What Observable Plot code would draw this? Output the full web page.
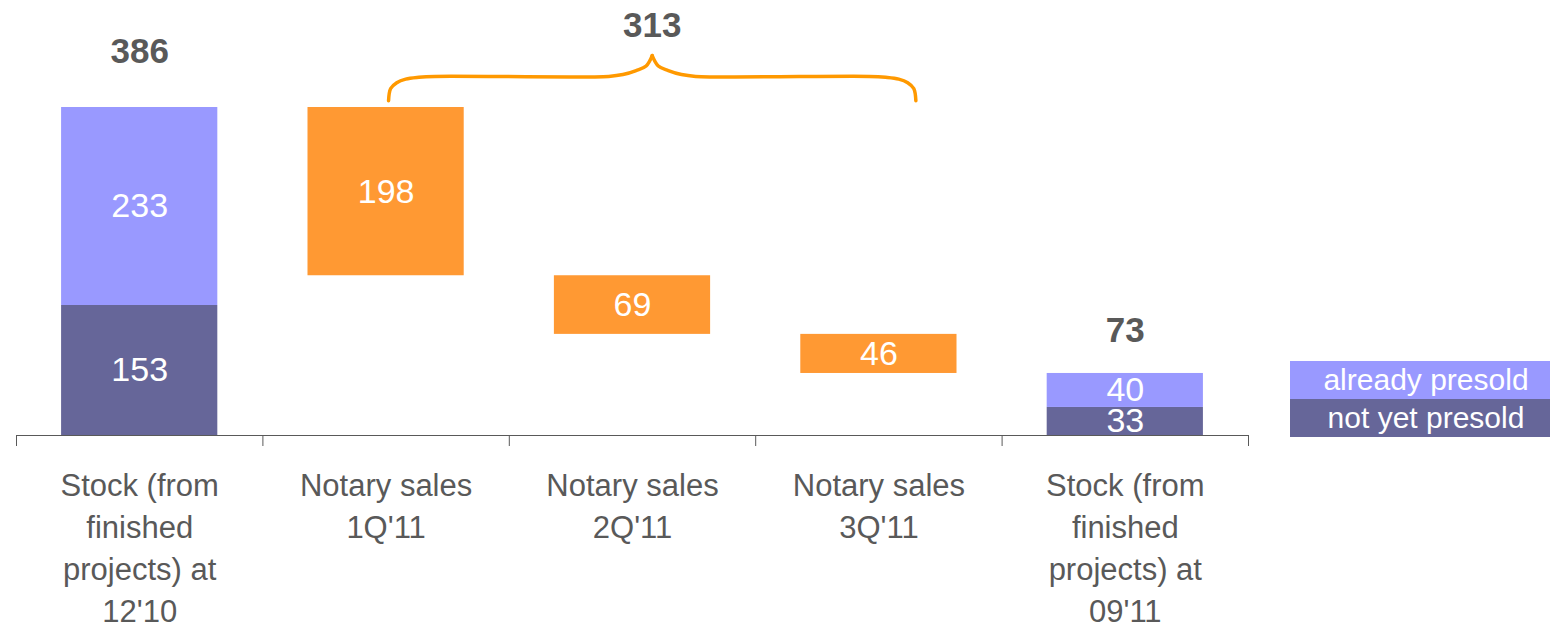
<!DOCTYPE html>
<html>
<head>
<meta charset="utf-8">
<script src="https://cdn.jsdelivr.net/npm/d3@7"></script>
<script src="https://cdn.jsdelivr.net/npm/@observablehq/plot@0.6"></script>
<style>
  html, body { margin: 0; padding: 0; background: #fff; overflow: hidden; }
  #wrap { position: relative; width: 1550px; height: 628px; font-family: "Liberation Sans", Arial, sans-serif; }
  #legend { position: absolute; left: 1290px; top: 361px; width: 272px; }
  #legend div { color: #fff; font-size: 30px; text-align: center; line-height: 38px; height: 38px; }
</style>
</head>
<body>
<div id="wrap"><div id="legend"></div></div>
<script>
// ---- data ----
const categories = [
  "Stock (from\nfinished\nprojects) at\n12'10",
  "Notary sales\n1Q'11",
  "Notary sales\n2Q'11",
  "Notary sales\n3Q'11",
  "Stock (from\nfinished\nprojects) at\n09'11"
];
const notYetPresold = [153, null, null, null, 33];
const alreadyPresold = [233, null, null, null, 40];
const notarySales = [null, 198, 69, 46, null];
const stockTotals = [386, null, null, null, 73];
const salesTotal = 313;
const legendLabels = ["already presold", "not yet presold"];

const colors = { already: "#9999FF", notYet: "#666699", sales: "#FF9933", brace: "#FF9900", text: "#595959", axis: "#595959" };

// ---- build waterfall segments ----
const halfBar = 0.317; // half bar width in category units
const segments = [];
let level = 0;
categories.forEach((c, i) => {
  if (notYetPresold[i] != null) {
    const a = notYetPresold[i], b = alreadyPresold[i];
    segments.push({ i, y1: 0, y2: a, value: a, color: colors.notYet });
    segments.push({ i, y1: a, y2: a + b, value: b, color: colors.already });
    level = a + b;
  } else {
    const s = notarySales[i];
    segments.push({ i, y1: level - s, y2: level, value: s, color: colors.sales });
    level -= s;
  }
});

// ---- brace annotation (spans the three notary sales bars) ----
const braceFrom = 1.51, braceTo = 3.65, braceBase = 394, bracePeak = 447;
const braceShape = [[0,0],[0.008,0.27],[0.031,0.40],[0.065,0.48],[0.115,0.52],[0.176,0.54],[0.835,0.54],[0.889,0.58],[0.939,0.67],[0.977,0.77],[1,1]];
const braceMid = (braceFrom + braceTo) / 2, braceHalf = (braceTo - braceFrom) / 2;
const bracePts = [];
braceShape.forEach(([f, h]) => bracePts.push({ x: braceFrom + f * braceHalf, y: braceBase + h * (bracePeak - braceBase), side: "L" }));
braceShape.forEach(([f, h]) => bracePts.push({ x: braceTo - f * braceHalf, y: braceBase + h * (bracePeak - braceBase), side: "R" }));

const stockIdx = stockTotals.map((v, i) => v != null ? i : -1).filter(i => i >= 0);
const font = "Liberation Sans, Arial, sans-serif";

const chart = Plot.plot({
  width: 1550,
  height: 628,
  marginTop: 0, marginLeft: 0, marginRight: 0, marginBottom: 193,
  style: { fontFamily: font, background: "transparent", color: colors.axis, overflow: "visible" },
  x: { domain: [0, 5], range: [16, 1248], ticks: [0, 1, 2, 3, 4, 5], tickSize: 11, tickFormat: () => "", label: null },
  y: { domain: [0, 386], range: [435, 107], axis: null },
  marks: [
    Plot.rectY(segments, { x1: d => d.i + 0.5 - halfBar, x2: d => d.i + 0.5 + halfBar, y1: "y1", y2: "y2", fill: "color" }),
    Plot.text(segments, { x: d => d.i + 0.5, y: d => (d.y1 + d.y2) / 2, text: d => String(d.value), fill: "#fff", fontSize: 34 }),
    Plot.ruleY([0], { x1: 0, x2: 5, stroke: colors.axis, strokeWidth: 1 }),
    Plot.text(categories, { x: (d, i) => i + 0.5, y: () => 0, text: d => d, dy: 31, lineAnchor: "top", lineHeight: 1.35, fontSize: 31, fill: colors.text }),
    Plot.text(stockIdx, { x: i => i + 0.5, y: i => stockTotals[i], text: i => String(stockTotals[i]), fill: colors.text, fontSize: 35, fontWeight: "bold", filter: i => i === 0, dy: -56 }),
    Plot.text(stockIdx, { x: i => i + 0.5, y: i => stockTotals[i], text: i => String(stockTotals[i]), fill: colors.text, fontSize: 35, fontWeight: "bold", filter: i => i !== 0, dy: -43 }),
    Plot.line(bracePts, { x: "x", y: "y", z: "side", stroke: colors.brace, strokeWidth: 3.5, curve: "catmull-rom", strokeLinecap: "round" }),
    Plot.text([salesTotal], { x: () => braceMid, y: () => bracePeak, text: d => String(d), dy: -30, fill: colors.text, fontSize: 35, fontWeight: "bold" })
  ]
});
document.getElementById("wrap").prepend(chart);

const legend = document.getElementById("legend");
[[legendLabels[0], colors.already], [legendLabels[1], colors.notYet]].forEach(([t, c]) => {
  const d = document.createElement("div");
  d.textContent = t;
  d.style.background = c;
  legend.appendChild(d);
});
</script>
</body>
</html>
